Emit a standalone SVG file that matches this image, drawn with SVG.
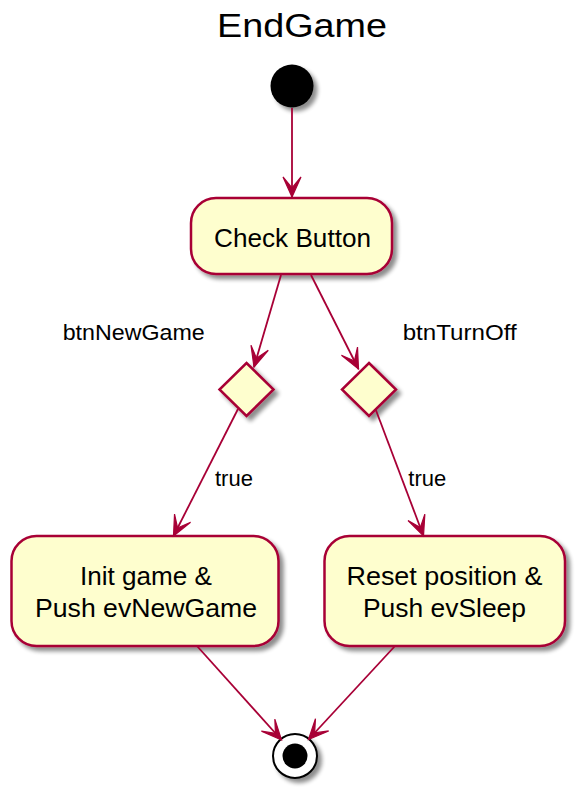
<svg xmlns="http://www.w3.org/2000/svg" width="586" height="789" viewBox="0 0 586 789">
<style>
.box{fill:#FEFECE;stroke:#A80036;stroke-width:2.5}
.t{font-family:"Liberation Sans",Arial,sans-serif;fill:#000}
.n{font-size:26px;text-anchor:middle}
.lbl{font-size:22px}
.c line{stroke:#A80036;stroke-width:1.8;fill:none;marker-end:url(#arr)}
</style>
<defs>
<filter id="sh" x="-30%" y="-30%" width="170%" height="170%">
<feGaussianBlur in="SourceAlpha" stdDeviation="2.2"/>
<feOffset dx="4" dy="4" result="b"/>
<feComponentTransfer><feFuncA type="linear" slope="0.45"/></feComponentTransfer>
<feMerge><feMergeNode/><feMergeNode in="SourceGraphic"/></feMerge>
</filter>
<marker id="arr" markerUnits="userSpaceOnUse" markerWidth="22" markerHeight="22" refX="0" refY="0" orient="auto" overflow="visible">
<path d="M0,0 L-20,-9 L-9,0 L-20,9 Z" fill="#A80036" stroke="#A80036" stroke-width="1.2" stroke-linejoin="miter"/>
</marker>
</defs>
<text class="t" x="217" y="37" font-size="34" textLength="170" lengthAdjust="spacingAndGlyphs">EndGame</text>
<g id="start"><circle cx="292" cy="86" r="21.5" fill="#000" filter="url(#sh)"/></g>
<g id="checkButton"><rect class="box" x="191" y="198" width="201" height="76" rx="25" filter="url(#sh)"/>
<text class="t n" x="292.5" y="247" textLength="157" lengthAdjust="spacingAndGlyphs">Check Button</text></g>
<g id="decisionNewGame"><polygon class="box" points="246.5,363 273.5,389.5 246.5,416 219.5,389.5" filter="url(#sh)"/></g>
<g id="decisionTurnOff"><polygon class="box" points="369,363 396,389.5 369,416 342,389.5" filter="url(#sh)"/></g>
<g id="initGame"><rect class="box" x="11.5" y="536" width="267" height="110" rx="25" filter="url(#sh)"/>
<text class="t n" x="146" y="585" textLength="132" lengthAdjust="spacingAndGlyphs">Init game &amp;</text>
<text class="t n" x="146" y="617" textLength="222" lengthAdjust="spacingAndGlyphs">Push evNewGame</text></g>
<g id="resetPosition"><rect class="box" x="324.5" y="536" width="240.5" height="110" rx="25" filter="url(#sh)"/>
<text class="t n" x="444.5" y="585" textLength="196" lengthAdjust="spacingAndGlyphs">Reset position &amp;</text>
<text class="t n" x="444.5" y="617" textLength="163" lengthAdjust="spacingAndGlyphs">Push evSleep</text></g>
<g id="end"><circle cx="295" cy="756" r="22" fill="#fff" stroke="#000" stroke-width="2" filter="url(#sh)"/>
<circle cx="295" cy="756" r="12.5" fill="#000"/></g>
<g id="connectors" class="c">
<line x1="292" y1="108" x2="292" y2="197"/>
<line x1="281" y1="275" x2="254" y2="367"/>
<line x1="311" y1="275" x2="358.5" y2="369"/>
<line x1="238" y1="409" x2="173.5" y2="536"/>
<line x1="375.5" y1="409" x2="423.5" y2="536"/>
<line x1="197" y1="646" x2="281.5" y2="740"/>
<line x1="395" y1="646" x2="308.5" y2="739.5"/>
<text class="t lbl" x="62.7" y="340" textLength="142" lengthAdjust="spacingAndGlyphs">btnNewGame</text>
<text class="t lbl" x="402.7" y="340" textLength="114" lengthAdjust="spacingAndGlyphs">btnTurnOff</text>
<text class="t lbl" x="215" y="486">true</text>
<text class="t lbl" x="408.3" y="486">true</text>
</g>
</svg>
